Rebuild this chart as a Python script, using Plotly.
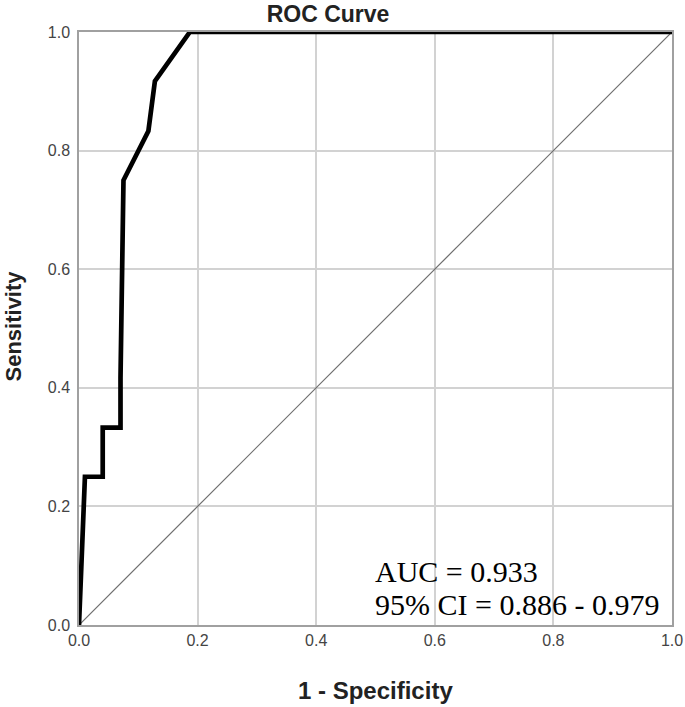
import plotly.graph_objects as go

fpr = [0.0, 0.01, 0.04, 0.04, 0.07, 0.07, 0.075, 0.117, 0.128, 0.187, 1.0]
tpr = [0.0, 0.25, 0.25, 0.333, 0.333, 0.417, 0.75, 0.833, 0.917, 1.0, 1.0]
ref_x = [0.0, 1.0]
ref_y = [0.0, 1.0]
tick_vals = [0.0, 0.2, 0.4, 0.6, 0.8, 1.0]
tick_text = ["0.0", "0.2", "0.4", "0.6", "0.8", "1.0"]
auc_lines = ["AUC = 0.933", "95% CI = 0.886 - 0.979"]

SANS = "Liberation Sans, Arial"
fig = go.Figure()
fig.add_trace(go.Scatter(x=ref_x, y=ref_y, mode="lines",
                         line=dict(color="#6e6e6e", width=1.2), hoverinfo="skip"))
fig.add_trace(go.Scatter(x=fpr, y=tpr, mode="lines",
                         line=dict(color="black", width=4.7), hoverinfo="skip"))

axis_common = dict(range=[0, 1], tickvals=tick_vals, ticktext=tick_text,
                   showgrid=True, gridcolor="#d2d2d2", gridwidth=1.5,
                   zeroline=False, showline=True, linecolor="#a0a0a0", linewidth=1.5,
                   mirror=True, automargin=False,
                   tickfont=dict(family=SANS, size=16, color="#444444"))

fig.update_xaxes(**axis_common, ticks="")
fig.update_yaxes(**axis_common, ticks="outside", ticklen=4, tickcolor="rgba(0,0,0,0)")

# axis titles
fig.add_annotation(x=0.5, y=0, xref="paper", yref="paper", yshift=-65,
                   xanchor="center", yanchor="middle", showarrow=False,
                   text="<b>1 - Specificity</b>", font=dict(family=SANS, size=24, color="#222"))
fig.add_annotation(x=0, y=0.5, xref="paper", yref="paper", xshift=-66, yshift=2,
                   xanchor="center", yanchor="middle", showarrow=False, textangle=-90,
                   text="<b>Sensitivity</b>", font=dict(family=SANS, size=22, color="#222"))

# AUC text
for yv, txt in zip([0.091, 0.034], auc_lines):
    fig.add_annotation(x=0.496, y=yv, xref="x", yref="y", xanchor="left", yanchor="middle",
                       text=txt, showarrow=False, align="left",
                       font=dict(family="Liberation Serif, Times New Roman", size=30, color="black"))

fig.update_layout(
    width=685, height=707,
    margin=dict(l=79, r=13, t=32, b=82),
    paper_bgcolor="white", plot_bgcolor="white",
    showlegend=False,
    title=dict(text="<b>ROC Curve</b>", x=328 / 685, xanchor="center", xref="container",
               y=1 - 14 / 707, yanchor="middle", yref="container",
               font=dict(family=SANS, size=23, color="#222")),
)

fig.write_html("out.html", config={"displayModeBar": False},
               post_script="document.body.style.margin='0';document.body.style.padding='0';")
